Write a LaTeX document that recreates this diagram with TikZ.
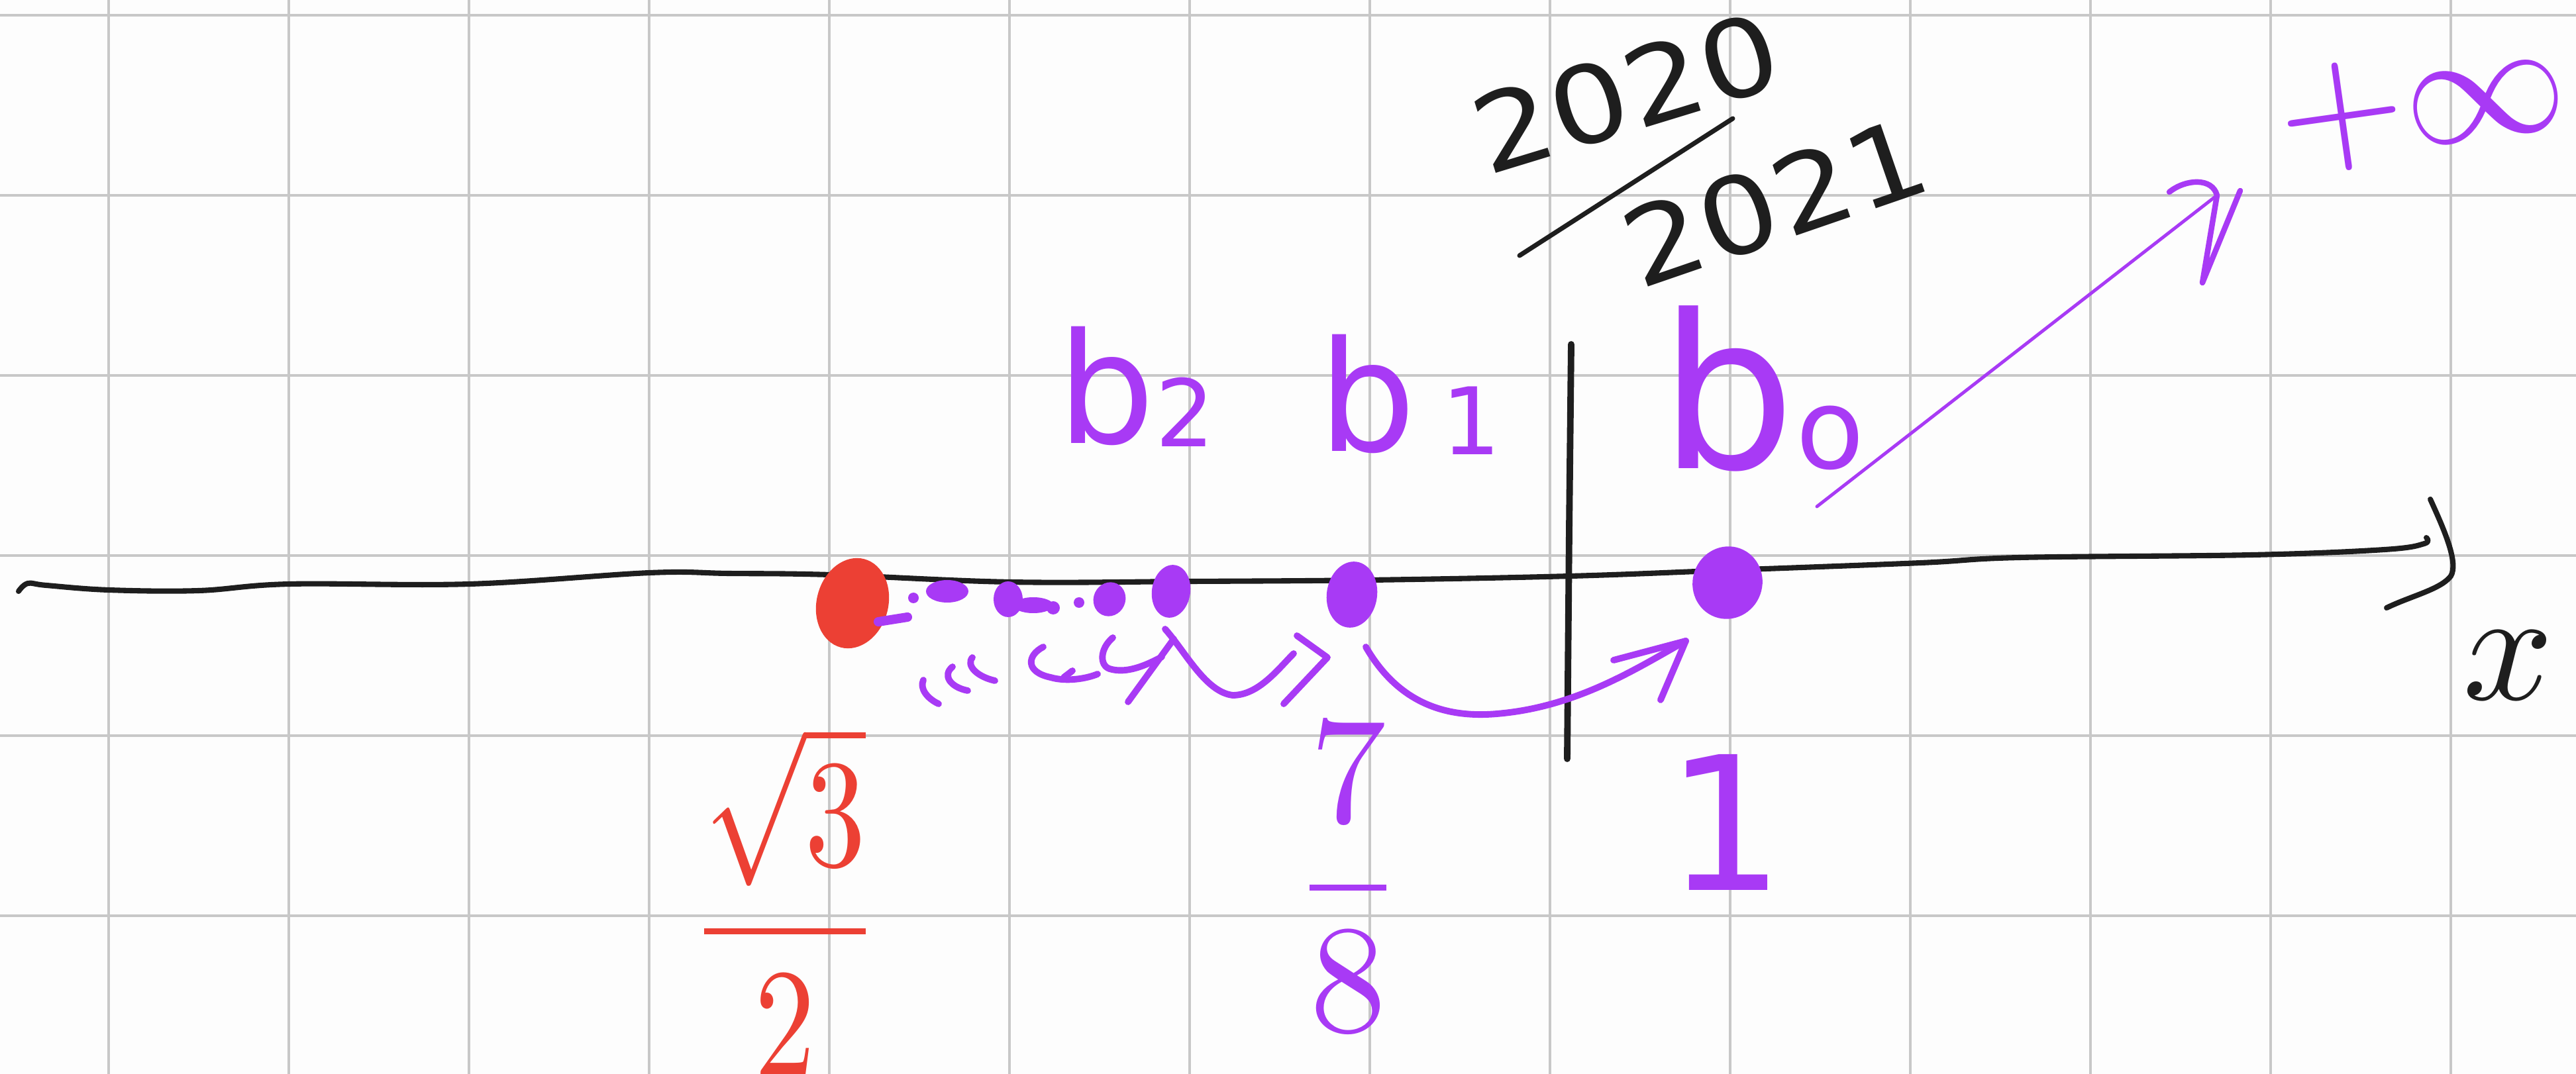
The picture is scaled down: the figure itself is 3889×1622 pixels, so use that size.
\documentclass[tikz,border=0pt]{standalone}
\usepackage{fontspec}
\setmainfont{DejaVu Sans}
\usepackage{amsmath}
\usetikzlibrary{shapes.geometric,calc}
\definecolor{pur}{RGB}{168,58,245}
\definecolor{rd}{RGB}{236,64,52}
\definecolor{ink}{RGB}{30,30,30}
\definecolor{gridc}{RGB}{200,200,200}
\definecolor{paper}{RGB}{253,253,253}
\begin{document}
\begin{tikzpicture}[x=0.01cm,y=-0.01cm,
  gridline/.style={gridc,line width=1.1pt},
  axisline/.style={ink,line width=2.3pt,line cap=round,line join=round},
  pstroke/.style={pur,line width=2.8pt,line cap=round,line join=round},
  pthin/.style={pur,line width=1.4pt,line cap=round,line join=round},
  pdot/.style={ellipse,fill=pur,inner sep=0pt},
  rdot/.style={ellipse,fill=rd,inner sep=0pt},
  plabel/.style={pur,inner sep=0pt},
  rlabel/.style={rd,inner sep=0pt},
  klabel/.style={ink,inner sep=0pt}]
\useasboundingbox (0,0) rectangle (3889,1622);
\fill[paper] (0,0) rectangle (3889,1622);
% grid
\foreach \gx in {164,436,...,3700} \draw[gridline] (\gx,0) -- (\gx,1622);
\foreach \gy in {23,295,...,1383} \draw[gridline] (0,\gy) -- (3889,\gy);
% axis
\draw[axisline] plot[smooth,tension=0.6] coordinates {(28,893) (42,881) (70,884) (164,891) (300,892) (437,882) (709,882) (981,865) (1100,866) (1253,868) (1525,879) (1800,878) (2068,876) (2371,870) (2612,861) (2900,850) (3049,842) (3400,838) (3600,830) (3660,821) (3663,812)};
\draw[axisline] (3669,754) .. controls (3690,800) and (3712,850) .. (3700,870) .. controls (3685,890) and (3640,900) .. (3603,918);
\node[klabel] (xlab) at (3787,1005) {\scalebox{6.8}{$x$}};
% vertical bar
\draw[ink,line width=2.8pt,line cap=round] (2372,520) -- (2369,800) -- (2366,1146);
% dots
\node[rdot,minimum width=1.08cm,minimum height=1.38cm,rotate=-15] (r) at (1287,911) {};
\node[pdot,minimum width=0.48cm,minimum height=0.52cm,rotate=-25] (d3) at (1675,905) {};
\node[pdot,minimum width=0.58cm,minimum height=0.80cm,rotate=-8] (d2) at (1768,893) {};
\node[pdot,minimum width=0.76cm,minimum height=1.00cm,rotate=-8] (d1) at (2041,898) {};
\node[pdot,minimum width=1.05cm,minimum height=1.10cm,rotate=-20] (d0) at (2608,880) {};
% scribbles near limit
\draw[pstroke,line width=4pt] (1326,939) -- (1370,932);
\fill[pur] (1379,903) circle (8);
\fill[pur] (1430,893) ellipse (32 and 17);
\fill[pur] (1522,905) ellipse (22 and 27);
\fill[pur] (1560,914) ellipse (30 and 12);
\fill[pur] (1590,918) circle (10);
\fill[pur] (1629,910) circle (8);
% small arcs
\draw[pstroke] (1394,1027) .. controls (1388,1040) and (1400,1055) .. (1417,1063);
\draw[pstroke] (1438,1007) .. controls (1422,1020) and (1435,1038) .. (1461,1043);
\draw[pstroke] (1468,993) .. controls (1458,1005) and (1475,1022) .. (1502,1028);
\draw[pstroke] (1575,977) .. controls (1550,990) and (1548,1015) .. (1586,1023) .. controls (1610,1030) and (1640,1025) .. (1657,1018);
\draw[pstroke] (1619,1013) -- (1606,1023);
\draw[pstroke] (1680,963) .. controls (1660,980) and (1660,1005) .. (1675,1010) .. controls (1700,1018) and (1730,1005) .. (1754,992);
\draw[pstroke] (1703,1060) -- (1772,965);
% arc b2 -> b1
\coordinate (a2s) at (1759,950);
\coordinate (a2e) at (1953,987);
\draw[pstroke] (a2s) .. controls (1790,985) and (1820,1045) .. (1861,1050) .. controls (1900,1050) and (1930,1010) .. (a2e);
\coordinate (a2t) at (2004,993);
\draw[pstroke] ($(a2t)+(-46,-33)$) -- (a2t) -- ($(a2t)+(-66,70)$);
% arc b1 -> b0
\coordinate (a1s) at (2062,977);
\coordinate (a1e) at (2545,968);
\draw[pstroke] (a1s) .. controls (2110,1060) and (2180,1085) .. (2260,1078) .. controls (2380,1068) and (2470,1010) .. (a1e);
\draw[pstroke] ($(a1e)+(-109,29)$) -- (a1e) -- ($(a1e)+(-38,89)$);
% arrow to +infinity
\coordinate (infs) at (2743,765);
\coordinate (inft) at (3347,295);
\draw[pthin] (infs) -- (inft);
\draw[pstroke,line width=2.4pt] (3275,290) .. controls (3300,270) and (3340,268) .. (inft) -- (3325,427) -- (3382,288);
% labels
\node[plabel,anchor=base west,font=\fontsize{66}{80}\selectfont] (lb2) at (1596,670) {b\raisebox{-0.02em}{\fontsize{40}{40}\selectfont 2}};
\node[plabel,anchor=base west,font=\fontsize{66}{80}\selectfont] (lb1) at (1990,682) {b\,\raisebox{-0.02em}{\fontsize{40}{40}\selectfont 1}};
\node[plabel,anchor=base west,font=\fontsize{92}{100}\selectfont] (lb0) at (2505,708) {b\raisebox{0em}{\fontsize{48}{48}\selectfont o}};
\node[plabel,font=\fontsize{80}{90}\selectfont] (l1) at (2605,1242) {1};
\node[plabel] (l78) at (2035,1325) {\scalebox{6.6}{$\dfrac{7}{8}$}};
\node[rlabel] (lr) at (1185,1360) {\scalebox{5.2}[6.6]{$\dfrac{\sqrt{3}}{2}$}};
\node[plabel,anchor=west,rotate=8] (linf) at (3440,190) {\scalebox{7}{$+\infty$}};
% 2020/2021
\node[klabel,rotate=17,font=\fontsize{46}{50}\selectfont] (n20) at (2455,140) {\scalebox{1.15}[1]{2020}};
\node[klabel,rotate=19,font=\fontsize{46}{50}\selectfont] (n21) at (2680,305) {\scalebox{1.15}[1]{2021}};
\coordinate (sl1) at (2294,386);
\coordinate (sl2) at (2616,179);
\draw[axisline,line width=2pt] (sl1) -- (sl2);
\end{tikzpicture}
\end{document}
